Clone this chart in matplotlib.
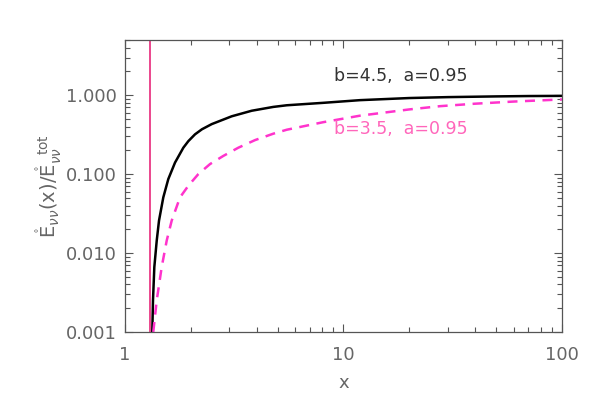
import numpy as np
import matplotlib.pyplot as plt
from matplotlib.ticker import FixedLocator, FixedFormatter, LogLocator, NullFormatter

# values
x_b45 = [1.333, 1.343, 1.362, 1.397, 1.431, 1.497, 1.578, 1.694, 1.849, 1.95, 2.091, 2.25, 2.494,
         3.078, 3.80, 4.77, 5.50, 8.08, 11.9, 20.0, 30.0, 50.0, 70.0, 100.0]
y_b45 = [0.001, 0.00252, 0.00664, 0.0144, 0.0258, 0.0507, 0.0865, 0.140, 0.216, 0.262, 0.319, 0.37, 0.43,
         0.54, 0.635, 0.71, 0.745, 0.80, 0.865, 0.92, 0.945, 0.965, 0.975, 0.98]

x_b35 = [1.347, 1.397, 1.472, 1.552, 1.636, 1.785, 1.949, 2.165, 2.449, 2.818, 3.30, 3.94,
         4.77, 5.50, 8.08, 11.9, 20.0, 27.7, 40.0, 60.0, 100.0]
y_b35 = [0.001, 0.00252, 0.00664, 0.0144, 0.0258, 0.0507, 0.0712, 0.100, 0.134, 0.170, 0.216, 0.27,
         0.325, 0.365, 0.455, 0.55, 0.66, 0.726, 0.78, 0.83, 0.883]

x_cut = 1.305
ytick_vals = [0.001, 0.01, 0.1, 1.0]
ytick_labels = ['0.001', '0.010', '0.100', '1.000']
xtick_vals = [1, 10, 100]
xtick_labels = ['1', '10', '100']

black = '#000000'
pink = '#ff33cc'
txt_gray = '#666666'
txt_pink = '#ff66bb'
cut_col = '#e8287a'

fig = plt.figure(figsize=(5.99, 4.12), dpi=100)
ax = fig.add_axes([0.2087, 0.1942, 0.7295, 0.7087])

ax.plot(x_b45, y_b45, color=black, lw=1.8)
ax.plot(x_b35, y_b35, color=pink, lw=1.8, ls=(0, (4, 3)))
ax.axvline(x_cut, color=cut_col, lw=1.2)

ax.set_xscale('log')
ax.set_yscale('log')
ax.set_xlim(1, 100)
ax.set_ylim(0.001, 5)

ax.xaxis.set_major_locator(FixedLocator(xtick_vals))
ax.xaxis.set_major_formatter(FixedFormatter(xtick_labels))
ax.xaxis.set_minor_locator(LogLocator(base=10, subs=np.arange(2, 10)))
ax.xaxis.set_minor_formatter(NullFormatter())
ax.yaxis.set_major_locator(FixedLocator(ytick_vals))
ax.yaxis.set_major_formatter(FixedFormatter(ytick_labels))
ax.yaxis.set_minor_locator(LogLocator(base=10, subs=np.arange(2, 10)))
ax.yaxis.set_minor_formatter(NullFormatter())

ax.tick_params(which='both', direction='in', top=True, right=True,
               color='#555555', labelcolor=txt_gray, labelsize=13)
ax.tick_params(which='major', length=5.5, width=0.8)
ax.tick_params(which='minor', length=3.5, width=0.8)
ax.tick_params(axis='x', which='major', pad=10)
ax.tick_params(axis='y', which='major', pad=6)
for s in ax.spines.values():
    s.set_color('#555555')
    s.set_linewidth(0.9)

ax.set_xlabel('x', color=txt_gray, fontsize=13, labelpad=7)
ax.set_ylabel(r'$\mathring{\mathrm{E}}_{\nu\nu}(\mathrm{x})/\mathring{\mathrm{E}}_{\nu\nu}^{\ \ \mathrm{tot}}$',
              color=txt_gray, fontsize=14, labelpad=1)

ax.text(9.05, 1.74, 'b=4.5,  a=0.95', color='#333333', fontsize=12.5, va='center', ha='left')
ax.text(9.05, 0.373, 'b=3.5,  a=0.95', color=txt_pink, fontsize=12.5, va='center', ha='left')

fig.savefig('out.png', dpi=100)
